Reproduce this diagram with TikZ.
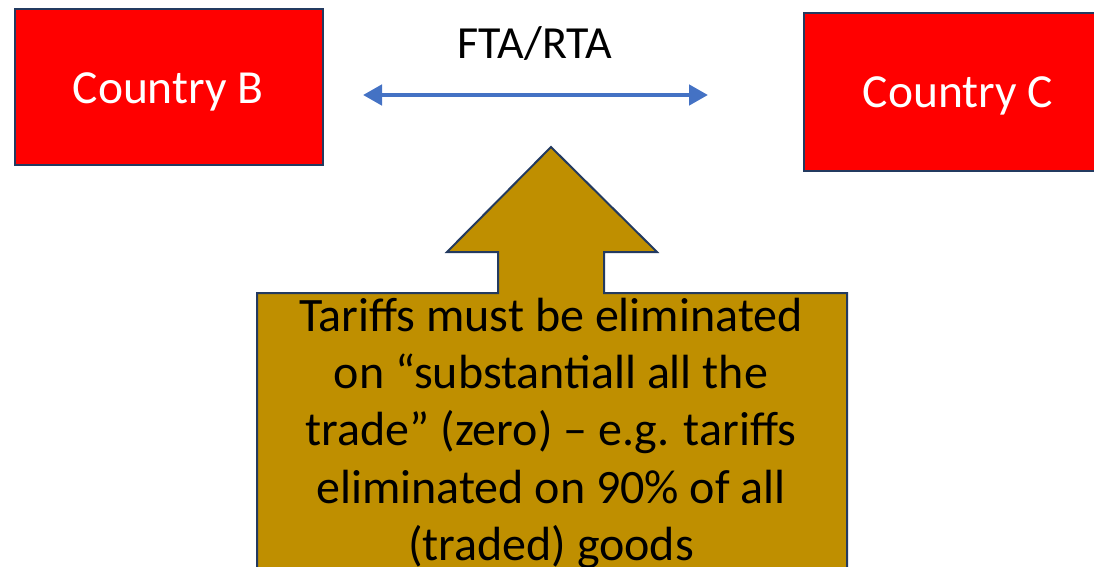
\documentclass[tikz,border=0pt]{standalone}
\usepackage{fontspec}
\setmainfont{Carlito}
\usetikzlibrary{arrows.meta}
\definecolor{boxred}{HTML}{FF0000}
\definecolor{edgenavy}{HTML}{233A60}
\definecolor{linkblue}{HTML}{4472C4}
\definecolor{calloutgold}{HTML}{BF8F00}
\tikzset{
  countrybox/.style={draw=edgenavy, line width=2pt, fill=boxred, inner sep=0pt,
    minimum width=308pt, minimum height=156pt},
  countrytext/.style={anchor=base, text=white, inner sep=0pt,
    font=\fontsize{47.5}{55}\selectfont},
  linklabel/.style={anchor=base, text=black, inner sep=0pt,
    font=\fontsize{46}{54}\selectfont},
  linkarrow/.style={draw=linkblue, line width=4.5pt,
    {Triangle[length=19pt,width=20pt]}-{Triangle[length=19pt,width=20pt]}},
  callout/.style={draw=edgenavy, line width=2pt, fill=calloutgold, line join=miter},
  callouttext/.style={anchor=north, align=center, inner sep=0pt, text=black,
    font=\fontsize{48}{57.2}\selectfont},
}
\begin{document}
\begin{tikzpicture}[x=1pt,y=-1pt]
\useasboundingbox (0,0) rectangle (1094,567);
\clip (0,0) rectangle (1094,567);

% the two countries
\node[countrybox] (B) at (169,87) {};
\node[countrytext] (Btext) at (168,103) {Country B};
\node[countrybox, minimum height=158pt] (C) at (958,92) {};
\node[countrytext] (Ctext) at (958,108) {Country C};

% the agreement between them
\coordinate (linkL) at (363,95);
\coordinate (linkR) at (708,95);
\draw[linkarrow] (linkL) -- (linkR);
\node[linklabel] (fta) at (535,59) {FTA/RTA};

% up-arrow callout
\draw[callout] (257,293) -- (498,293) -- (498,252) -- (447,252) -- (551,147)
  -- (657,252) -- (604,252) -- (604,293) -- (847,293) -- (847,600)
  -- (257,600) -- cycle;
\node[callouttext] (rule) at (551,298) {Tariffs must be eliminated\\
  on “substantiall all the\\
  trade” (zero) – e.g. tariffs\\
  eliminated on 90\% of all\\
  (traded) goods};
\end{tikzpicture}
\end{document}
